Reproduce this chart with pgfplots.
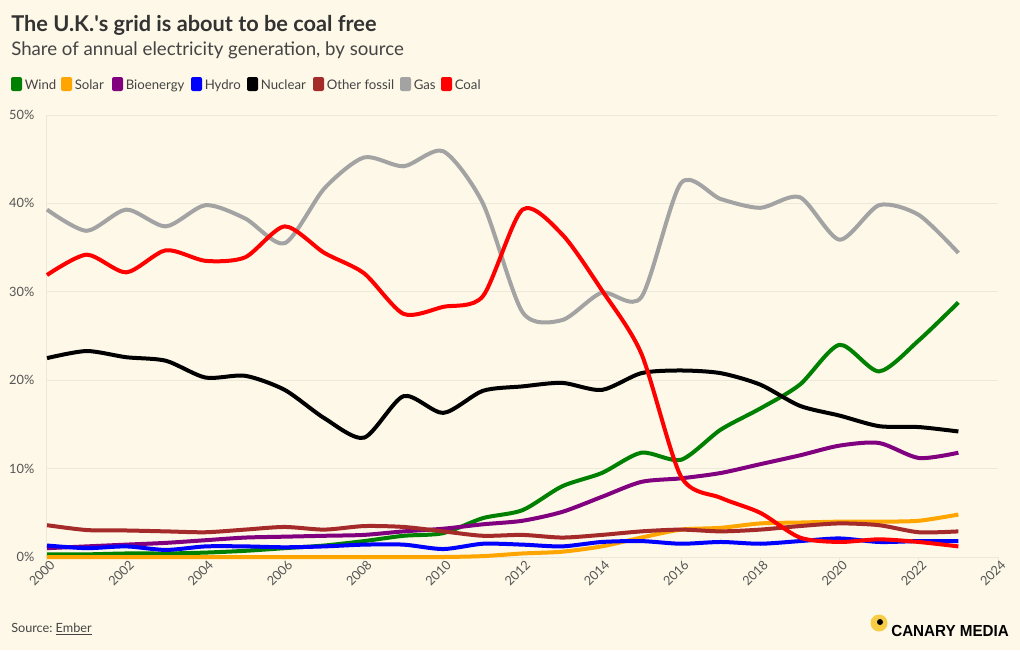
\documentclass[border=0pt]{standalone}
\usepackage{pgfplots}
\pgfplotsset{compat=1.18}
\usepackage{pgfplotstable}
\usepackage{fontspec}
\setmainfont{Lato}
\newfontfamily\logofont{Liberation Sans}
\definecolor{bg}{HTML}{FDF8E7}
\definecolor{gridc}{HTML}{EDE9D9}
\definecolor{titlec}{HTML}{333333}
\definecolor{subc}{HTML}{444444}
\definecolor{tickc}{HTML}{555555}
\definecolor{windc}{HTML}{008000}
\definecolor{solarc}{HTML}{FFA500}
\definecolor{bioc}{HTML}{800080}
\definecolor{hydroc}{HTML}{0000FF}
\definecolor{nucc}{HTML}{000000}
\definecolor{otherc}{HTML}{A52A2A}
\definecolor{gasc}{HTML}{A3A3A3}
\definecolor{coalc}{HTML}{FF0000}
\definecolor{canary}{HTML}{F6CD45}

\pgfplotstableread{
year wind solar bio hydro nuclear other gas coal
2000 0.3 0.0 1.0 1.3 22.5 3.6 39.3 31.9
2001 0.3 0.0 1.2 1.0 23.3 3.05 36.9 34.2
2002 0.4 0.0 1.4 1.2 22.6 3.0 39.3 32.2
2003 0.4 0.0 1.6 0.8 22.2 2.9 37.4 34.7
2004 0.5 0.0 1.9 1.2 20.3 2.8 39.8 33.5
2005 0.7 0.0 2.2 1.2 20.5 3.1 38.3 33.9
2006 1.0 0.0 2.3 1.1 18.9 3.4 35.5 37.4
2007 1.3 0.0 2.4 1.2 15.7 3.1 41.7 34.4
2008 1.8 0.0 2.5 1.4 13.5 3.5 45.2 32.1
2009 2.4 0.0 2.9 1.4 18.2 3.4 44.2 27.5
2010 2.7 0.0 3.2 0.9 16.3 2.9 45.9 28.3
2011 4.4 0.1 3.7 1.5 18.8 2.4 40.0 29.5
2012 5.3 0.4 4.1 1.4 19.3 2.5 27.7 39.3
2013 8.0 0.6 5.1 1.2 19.7 2.2 26.8 36.5
2014 9.5 1.2 6.8 1.7 18.9 2.5 29.9 30.2
2015 11.8 2.2 8.5 1.8 20.8 2.9 29.4 23.0
2016 11.0 3.1 8.9 1.5 21.1 3.1 42.3 9.1
2017 14.4 3.3 9.5 1.7 20.8 2.9 40.5 6.7
2018 16.8 3.8 10.5 1.5 19.5 3.1 39.5 5.0
2019 19.5 3.9 11.5 1.8 17.1 3.5 40.7 2.2
2020 24.0 4.0 12.6 2.1 16.0 3.8 35.9 1.7
2021 21.0 4.0 12.9 1.7 14.8 3.6 39.8 2.0
2022 24.5 4.1 11.2 1.8 14.7 2.8 38.7 1.7
2023 28.8 4.8 11.8 1.8 14.2 2.9 34.4 1.2
}\datatable

\begin{document}
\begin{tikzpicture}
\fill[bg] (0pt,0pt) rectangle (765pt,-487.5pt);
\begin{axis}[
  at={(35.25pt,-417.75pt)}, anchor=south west,
  scale only axis, width=713.25pt, height=331.5pt,
  xmin=2000, xmax=2024, ymin=0, ymax=50,
  clip=false,
  axis lines*=left,
  axis line style={gridc, line width=0.75pt},
  ymajorgrids, grid style={gridc, line width=0.75pt},
  ytick={0,10,20,30,40,50},
  yticklabel={\pgfmathprintnumber{\tick}\%},
  ytick style={draw=none},
  xtick={2000,2002,...,2024},
  xtick style={gridc, line width=0.75pt},
  tick align=outside, major tick length=4pt,
  /pgf/number format/assume math mode=true,
  /pgf/number format/1000 sep={},
  tick label style={font=\fontsize{9.6}{11}\selectfont, text=tickc},
  yticklabel style={xshift=-2pt},
  xticklabel style={rotate=45, anchor=east, inner sep=1pt, yshift=-3pt, xshift=4pt},
  every axis plot/.append style={line width=3pt, smooth, tension=0.45, line join=round},
]
\addplot[color=windc] table[x=year, y=wind] {\datatable};
\addplot[color=solarc] table[x=year, y=solar] {\datatable};
\addplot[color=bioc] table[x=year, y=bio] {\datatable};
\addplot[color=hydroc] table[x=year, y=hydro] {\datatable};
\addplot[color=nucc] table[x=year, y=nuclear] {\datatable};
\addplot[color=otherc] table[x=year, y=other] {\datatable};
\addplot[color=gasc] table[x=year, y=gas] {\datatable};
\addplot[color=coalc] table[x=year, y=coal] {\datatable};
\end{axis}
\begin{scope}[x=0.75pt, y=-0.75pt]
  \node[anchor=base west, inner sep=0, text=titlec, font=\fontsize{16.3}{20}\selectfont\bfseries] at (11,31) {The U.K.\textquotesingle s grid is about to be coal free};
  \node[anchor=base west, inner sep=0, text=subc, font=\fontsize{14}{17}\selectfont] at (11,55) {Share of annual electricity generation, by source};
  \begin{scope}[every node/.style={anchor=base west, inner sep=0, text=subc, font=\fontsize{9.9}{12}\selectfont}]
    \fill[windc, rounded corners=1.5pt] (11,77) rectangle (22,91);  \node at (24.5,89) {Wind};
    \fill[solarc, rounded corners=1.5pt] (61,77) rectangle (72,91); \node at (74.5,89) {Solar};
    \fill[bioc, rounded corners=1.5pt] (112,77) rectangle (123,91); \node at (125.5,89) {Bioenergy};
    \fill[hydroc, rounded corners=1.5pt] (191,77) rectangle (202,91); \node at (204.5,89) {Hydro};
    \fill[nucc, rounded corners=1.5pt] (247,77) rectangle (258,91); \node at (260.5,89) {Nuclear};
    \fill[otherc, rounded corners=1.5pt] (313,77) rectangle (324,91); \node at (326.5,89) {Other fossil};
    \fill[gasc, rounded corners=1.5pt] (400,77) rectangle (411,91); \node at (413.5,89) {Gas};
    \fill[coalc, rounded corners=1.5pt] (441,77) rectangle (452,91); \node at (454.5,89) {Coal};
  \end{scope}
  \node[anchor=base west, inner sep=0, text=subc, font=\fontsize{9.5}{11}\selectfont] at (11,632) {Source:~\underline{Ember}};
  \fill[canary] (879,623) circle (8.5);
  \fill[black] (880,622) circle (3);
  \node[anchor=base west, inner sep=0, text=black, font=\logofont\fontsize{12}{14}\selectfont\bfseries] at (891,636) {\scalebox{0.95}[1]{CANARY MEDIA}};
\end{scope}
\pgfresetboundingbox
\path (0pt,0pt) rectangle (765pt,-487.5pt);
\end{tikzpicture}
\end{document}
